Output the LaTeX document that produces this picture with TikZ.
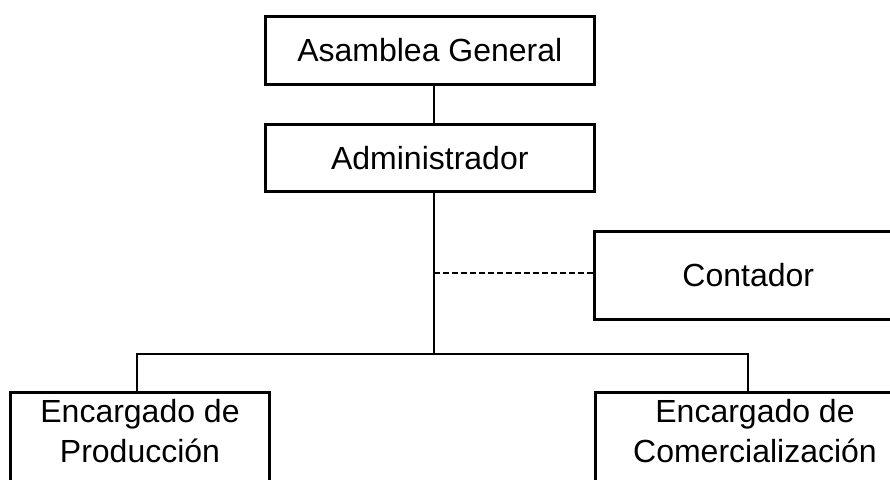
\documentclass[tikz,border=0pt]{standalone}
\usepackage{fontspec}
\setmainfont{Liberation Sans}
\begin{document}
\begin{tikzpicture}[x=1pt,y=-1pt,
  box/.style={draw, line width=2.6pt, inner sep=0pt, anchor=north west},
  lbl/.style={inner sep=0pt, align=center, font=\fontsize{32}{40}\selectfont},
  conn/.style={line width=2.6pt},
  dconn/.style={line width=2.2pt, dash pattern=on 6pt off 3pt}]
\useasboundingbox (0,0) rectangle (890,479);
\node[box, minimum width=329pt, minimum height=68pt, font=\fontsize{32}{40}\selectfont] (ag) at (264,15) {Asamblea General};
\node[box, minimum width=329pt, minimum height=67pt, font=\fontsize{32}{40}\selectfont] (adm) at (264,123) {Administrador};
\node[box, minimum width=308pt, minimum height=88pt, font=\fontsize{32}{40}\selectfont] (cont) at (593,230) {Contador};
\node[box, minimum width=259pt, minimum height=120pt] (prod) at (9,391) {};
\node[box, minimum width=322pt, minimum height=120pt] (com) at (594,391) {};
\node[lbl, anchor=base] (tprod) at (140,462) {Encargado de\\Producción};
\node[lbl, anchor=base] (tcom) at (755,462) {Encargado de\\Comercialización};
\coordinate (j) at (434,354);
\coordinate (d) at (434,273);
\draw[conn] (ag.south -| j) -- (adm.north -| j);
\draw[conn] (adm.south -| j) -- (j);
\draw[conn] (prod.north -| 137,0) |- (j) -| (com.north -| 748,0);
\draw[dconn] (d) -- (cont.west |- d);
\end{tikzpicture}
\end{document}
